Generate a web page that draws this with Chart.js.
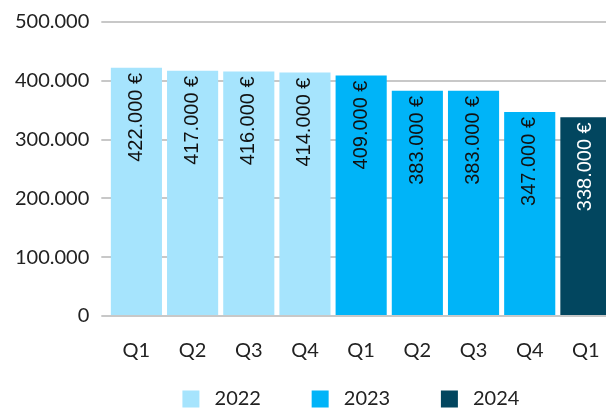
<!DOCTYPE html>
<html>
<head>
<meta charset="utf-8">
<script src="https://cdn.jsdelivr.net/npm/chart.js@4"></script>
<style>
  html, body { margin: 0; padding: 0; background: #fff; overflow: hidden; }
  /* a bit wider than the window: the last bar runs off the right edge */
  #wrap { width: 614px; height: 408px; }
</style>
</head>
<body>
<div id="wrap"><canvas id="quarters"></canvas></div>
<script>
const labels = ["Q1", "Q2", "Q3", "Q4", "Q1", "Q2", "Q3", "Q4", "Q1"];
const years = ["2022", "2023", "2024"];
const values2022 = [422000, 417000, 416000, 414000, null, null, null, null, null];
const values2023 = [null, null, null, null, 409000, 383000, 383000, 347000, null];
const values2024 = [null, null, null, null, null, null, null, null, 338000];
const yTicks = [0, 100000, 200000, 300000, 400000, 500000];

const colors = ["#a6e4fd", "#00b4f8", "#02465f"];
const labelColors = ["#111", "#111", "#fff"];

const fmt = (v) => v.toLocaleString("de-DE");

// value written inside the bar, rotated, near the top
const barLabels = {
  id: "barLabels",
  afterDatasetsDraw(chart) {
    const c = chart.ctx;
    chart.data.datasets.forEach((ds, i) => {
      const meta = chart.getDatasetMeta(i);
      meta.data.forEach((bar, j) => {
        if (ds.data[j] == null) return;
        c.save();
        c.translate(bar.x, bar.y + 5);
        c.rotate(-Math.PI / 2);
        c.font = "20px 'Liberation Sans'";
        c.fillStyle = labelColors[i];
        c.textAlign = "right";
        c.textBaseline = "middle";
        c.fillText(fmt(ds.data[j]) + " €", 0, 0);
        c.restore();
      });
    });
  },
};

// spaces only widen the legend entries, the text stays the year
const legendText = [" 2022      ", " 2023      ", " 2024    "];

new Chart(document.getElementById("quarters"), {
  type: "bar",
  data: {
    labels: labels,
    datasets: [values2022, values2023, values2024].map((d, i) => ({
      label: years[i],
      data: d,
      backgroundColor: colors[i],
      categoryPercentage: 1,
      barPercentage: 0.91,
    })),
  },
  options: {
    responsive: true,
    maintainAspectRatio: false,
    animation: false,
    layout: { padding: { top: 16, right: 0, left: 3, bottom: -11 } },
    plugins: {
      tooltip: { enabled: false },
      legend: {
        position: "bottom",
        fullSize: false,
        labels: {
          font: { family: "Lato", size: 20 },
          color: "#222",
          boxWidth: 17,
          boxHeight: 17,
          padding: 20,
          generateLabels: (chart) =>
            Chart.defaults.plugins.legend.labels
              .generateLabels(chart)
              .map((l, i) => ({ ...l, text: legendText[i] })),
        },
      },
    },
    scales: {
      x: {
        stacked: true,
        grid: {
          display: true,
          drawOnChartArea: false,
          drawTicks: true,
          tickLength: 23,
          tickColor: "rgba(0,0,0,0)",
        },
        border: { display: false },
        ticks: { font: { family: "Lato", size: 20 }, color: "#222", padding: 0 },
        afterFit: (axis) => {
          axis.height = 53;
        },
      },
      y: {
        stacked: true,
        min: 0,
        max: 500000,
        afterBuildTicks: (axis) => {
          axis.ticks = yTicks.map((v) => ({ value: v }));
        },
        grid: { color: "#c8c8c8", lineWidth: 2, tickLength: 7 },
        border: { display: false },
        ticks: {
          font: { family: "Lato", size: 20, lineHeight: 1 },
          color: "#222",
          padding: 12,
          callback: (v) => fmt(v),
        },
      },
    },
  },
  plugins: [barLabels],
});
</script>
</body>
</html>
